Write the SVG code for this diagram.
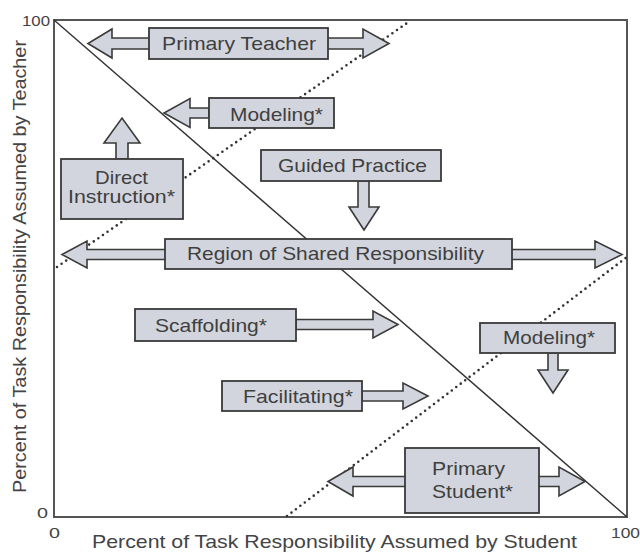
<svg xmlns="http://www.w3.org/2000/svg" width="640" height="553" viewBox="0 0 640 553">
<style>
.bx{fill:#d2d5dd;stroke:#3a3a3a;stroke-width:1.8}
.ar{fill:#d2d5dd;stroke:#3a3a3a;stroke-width:1.6;stroke-linejoin:miter}
.t{font-family:"Liberation Sans",Arial,sans-serif;font-size:19px;fill:#3f3f3f}
.ax{font-family:"Liberation Sans",Arial,sans-serif;font-size:19px;fill:#444}
.num{font-family:"Liberation Sans",Arial,sans-serif;font-size:14.5px;fill:#444}
.dot{fill:none;stroke:#333;stroke-width:2.6;stroke-linecap:round;stroke-dasharray:0 5.6}
</style>
<rect width="640" height="553" fill="#fff"/>
<g id="plot">
<rect x="54" y="20" width="573" height="497" fill="none" stroke="#555" stroke-width="2"/>
<text class="num" x="22" y="26" textLength="28" lengthAdjust="spacingAndGlyphs">100</text>
<text class="num" x="37" y="518" textLength="11" lengthAdjust="spacingAndGlyphs">0</text>
<text class="num" x="49" y="538" textLength="11" lengthAdjust="spacingAndGlyphs">0</text>
<text class="num" x="611" y="538" textLength="29" lengthAdjust="spacingAndGlyphs">100</text>
<text class="ax" x="92" y="548" textLength="485" lengthAdjust="spacingAndGlyphs">Percent of Task Responsibility Assumed by Student</text>
<text class="ax" transform="translate(26,493) rotate(-90)" x="0" y="0" textLength="453" lengthAdjust="spacingAndGlyphs">Percent of Task Responsibility Assumed by Teacher</text>
</g>
<g id="connectors">
<line x1="54" y1="20" x2="627" y2="517" stroke="#333" stroke-width="1.4"/>
<line class="dot" x1="57" y1="267" x2="410" y2="21"/>
<line class="dot" x1="287" y1="516" x2="627" y2="257"/>
</g>
<g id="primary-teacher">
<polygon class="ar" points="112,38 363,38 363,29 389,43.5 363,58 363,49 112,49 112,58 88,43.5 112,29"/>
<rect class="bx" x="149" y="28" width="179" height="31"/>
<text class="t" x="162" y="50" textLength="154" lengthAdjust="spacingAndGlyphs">Primary Teacher</text>
</g>
<g id="modeling-teacher">
<polygon class="ar" points="209,108 190,108 190,98.5 164,113 190,127.5 190,118 209,118"/>
<rect class="bx" x="209" y="98" width="125" height="30"/>
<text class="t" x="230" y="121" textLength="93" lengthAdjust="spacingAndGlyphs">Modeling*</text>
</g>
<g id="direct-instruction">
<polygon class="ar" points="116,159 116,143 104,143 122,118 140,143 128,143 128,159"/>
<rect class="bx" x="61" y="159" width="122" height="60"/>
<text class="t" x="95" y="184" textLength="53" lengthAdjust="spacingAndGlyphs">Direct</text>
<text class="t" x="68" y="203" textLength="107" lengthAdjust="spacingAndGlyphs">Instruction*</text>
</g>
<g id="guided-practice">
<polygon class="ar" points="358,181 358,207 349,207 364,230 379,207 369,207 369,181"/>
<rect class="bx" x="261" y="150" width="180" height="31"/>
<text class="t" x="278" y="172" textLength="149" lengthAdjust="spacingAndGlyphs">Guided Practice</text>
</g>
<g id="shared-responsibility">
<polygon class="ar" points="87,249.5 595,249.5 595,241 622,254.5 595,268 595,259.5 87,259.5 87,268 62,254.5 87,241"/>
<rect class="bx" x="165" y="239" width="347" height="30"/>
<text class="t" x="187" y="260" textLength="297" lengthAdjust="spacingAndGlyphs">Region of Shared Responsibility</text>
</g>
<g id="scaffolding">
<polygon class="ar" points="296,319.5 373,319.5 373,311 398,324.5 373,338 373,329.5 296,329.5"/>
<rect class="bx" x="135" y="309" width="161" height="32"/>
<text class="t" x="155" y="332" textLength="112" lengthAdjust="spacingAndGlyphs">Scaffolding*</text>
</g>
<g id="facilitating">
<polygon class="ar" points="362,391 403,391 403,383 428,396 403,409 403,401 362,401"/>
<rect class="bx" x="222" y="381" width="140" height="30"/>
<text class="t" x="243" y="403" textLength="110" lengthAdjust="spacingAndGlyphs">Facilitating*</text>
</g>
<g id="modeling-student">
<polygon class="ar" points="548,353 548,370 538,370 553,393 568,370 558,370 558,353"/>
<rect class="bx" x="480" y="323" width="135" height="30"/>
<text class="t" x="503" y="344" textLength="92" lengthAdjust="spacingAndGlyphs">Modeling*</text>
</g>
<g id="primary-student">
<polygon class="ar" points="353,476.5 559,476.5 559,467 585,481.5 559,496 559,486.5 353,486.5 353,496 328,481.5 353,467"/>
<rect class="bx" x="405" y="448" width="134" height="65"/>
<text class="t" x="432" y="475" textLength="73" lengthAdjust="spacingAndGlyphs">Primary</text>
<text class="t" x="432" y="498" textLength="81" lengthAdjust="spacingAndGlyphs">Student*</text>
</g>
</svg>
